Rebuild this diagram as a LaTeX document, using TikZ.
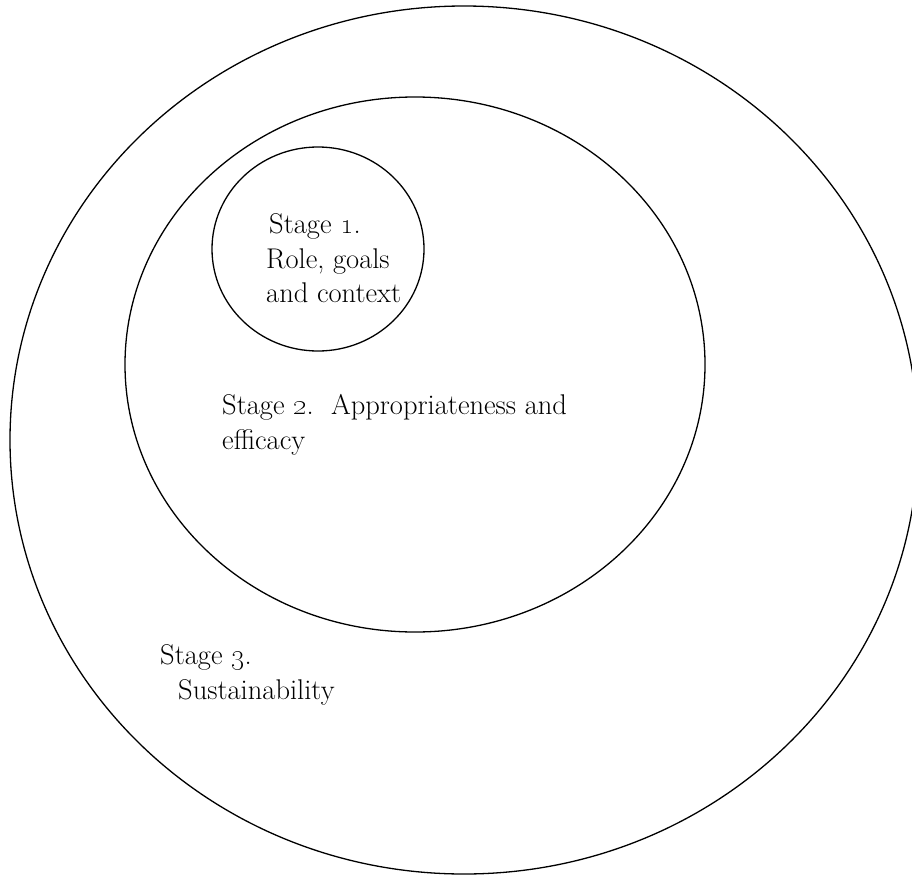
\documentclass[tikz,border=0pt]{standalone}
\usetikzlibrary{shapes.geometric}
\begin{document}
\begin{tikzpicture}[x=1pt,y=-1pt,
  ring/.style={draw=black, line width=1.3pt, ellipse, inner sep=0pt},
  label/.style={anchor=base west, inner sep=0pt, font=\fontsize{28.5}{35}\selectfont}]
\useasboundingbox (0,0) rectangle (912,875);
\node[ring, minimum width=908pt, minimum height=868pt] (outer) at (464,440) {};
\node[ring, minimum width=580pt, minimum height=535pt] (middle) at (415,364.5) {};
\node[ring, minimum width=212pt, minimum height=204pt] (inner) at (318,249) {};
\node[label] (s1a) at (269,233) {Stage \oldstylenums{1}.};
\node[label] (s1b) at (266,268) {Role, goals};
\node[label] (s1c) at (266,302) {and context};
\node[label] (s2a) at (222,414) {Stage \oldstylenums{2}.\ \ Appropriateness and};
\node[label] (s2b) at (222,449) {efficacy};
\node[label] (s3a) at (160,664) {Stage \oldstylenums{3}.};
\node[label] (s3b) at (178,699) {Sustainability};
\end{tikzpicture}
\end{document}
